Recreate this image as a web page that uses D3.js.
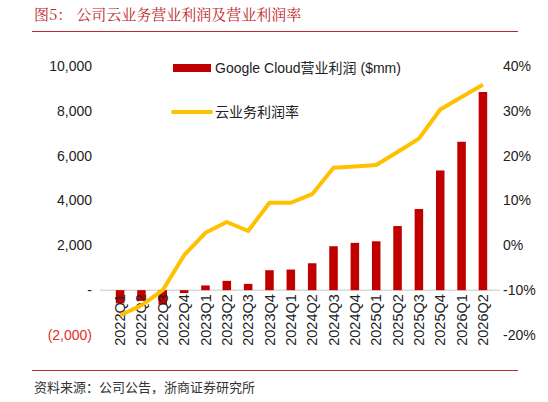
<!DOCTYPE html><html><head><meta charset="utf-8"><script src="https://cdn.jsdelivr.net/npm/d3@7"></script>
<style>body{margin:0;background:#fff}text{font-family:"Liberation Sans","Noto Sans CJK SC",sans-serif}</style></head><body><svg id="c" width="548" height="402"></svg>
<script>
const categories=["2022Q1","2022Q2","2022Q3","2022Q4","2023Q1","2023Q2","2023Q3","2023Q4","2024Q1","2024Q2","2024Q3","2024Q4","2025Q1","2025Q2","2025Q3","2025Q4","2026Q1","2026Q2"];
const profit=[-590,-480,-640,-130,210,415,280,890,920,1200,1960,2110,2180,2860,3620,5340,6620,8840];
const margin=[-15.6,-13.4,-10,-2.2,2.8,5.2,3.2,9.5,9.5,11.4,17.3,17.6,17.9,20.8,23.8,30.3,33.1,35.8];
const leftTicks=[-2000,0,2000,4000,6000,8000,10000];
const rightTicks=[-20,-10,0,10,20,30,40];
const svg=d3.select("#c");
const x=d3.scaleBand().domain(categories).range([103,500]).padding(0.6);
const yL=d3.scaleLinear().domain([-2000,10000]).range([335,66]);
const yR=d3.scaleLinear().domain([-20,40]).range([335,66]);
const CJK='"Noto Sans CJK SC",sans-serif';
svg.append("text").attr("x",34).attr("y",20).attr("fill","#c0282d").attr("font-size",15).style("font-family",'"Noto Serif CJK SC","Noto Sans CJK SC",serif').text("图5：  公司云业务营业利润及营业利润率");
svg.append("line").attr("x1",32).attr("x2",518).attr("y1",31.5).attr("y2",31.5).attr("stroke","#c0282d");
svg.append("line").attr("x1",32).attr("x2",518).attr("y1",370.5).attr("y2",370.5).attr("stroke","#c0282d");
svg.append("text").attr("x",34).attr("y",392).attr("font-size",13).attr("fill","#333").style("font-family",CJK).text("资料来源：公司公告，浙商证券研究所");
const fmt=v=>v===0?"-":v<0?"("+d3.format(",")(-v)+")":d3.format(",")(v);
svg.append("g").attr("transform","translate(92,0)").call(d3.axisLeft(yL).tickValues(leftTicks).tickFormat(fmt).tickSize(0).tickPadding(0))
 .call(g=>g.select(".domain").remove()).selectAll("text").attr("font-size",14).attr("fill",d=>d<0?"#e03030":"#222");
svg.append("g").attr("transform","translate(503,0)").call(d3.axisRight(yR).tickValues(rightTicks).tickFormat(d=>d+"%").tickSize(0).tickPadding(0))
 .call(g=>g.select(".domain").remove()).selectAll("text").attr("font-size",14).attr("fill","#222");
svg.append("line").attr("x1",100).attr("x2",500).attr("y1",yL(0)).attr("y2",yL(0)).attr("stroke","#d9d9d9").attr("stroke-width",1.5);
svg.selectAll(".bar").data(profit).join("rect").attr("x",(d,i)=>x(categories[i])).attr("width",x.bandwidth())
 .attr("y",d=>yL(Math.max(0,d))).attr("height",d=>Math.abs(yL(d)-yL(0))).attr("fill","#c00000");
svg.append("g").attr("transform","translate(0,"+(yL(0)+4)+")").call(d3.axisBottom(x).tickSize(0).tickPadding(0))
 .call(g=>g.select(".domain").remove()).selectAll("text").attr("font-size",14.5).attr("fill","#222")
 .attr("transform","rotate(-90)").attr("text-anchor","end").attr("dx",0).attr("dy","0.35em").attr("x",0).attr("y",0);
svg.append("path").datum(margin).attr("fill","none").attr("stroke","#ffc000").attr("stroke-width",4).attr("stroke-linejoin","round")
 .attr("d",d3.line().x((d,i)=>x(categories[i])+x.bandwidth()/2).y(d=>yR(d)));
svg.append("rect").attr("x",173).attr("y",64).attr("width",38).attr("height",8).attr("fill","#c00000");
svg.append("text").attr("x",215).attr("y",73).attr("font-size",14).attr("fill","#222").text("Google Cloud营业利润 ($mm)");
svg.append("line").attr("x1",173).attr("x2",211).attr("y1",112).attr("y2",112).attr("stroke","#ffc000").attr("stroke-width",4).attr("stroke-linecap","round");
svg.append("text").attr("x",215).attr("y",117).attr("font-size",14).attr("fill","#222").style("font-family",CJK).text("云业务利润率");
</script></body></html>
